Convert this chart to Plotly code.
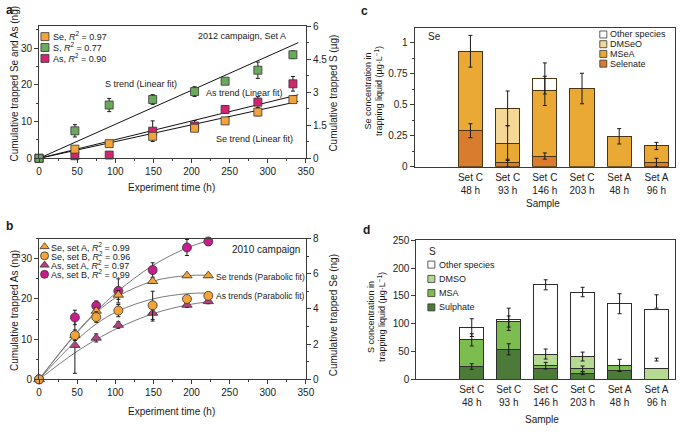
import numpy as np
import plotly.graph_objects as go

W, H = 685, 432
def px(x): return x / W
def py(y): return 1 - y / H

# ---------------- Panel a data (2012 campaign, Set A) ----------------
a_time = [0, 47, 92, 149, 204, 244, 287, 333]
a_se = [0, 2.5, 4.0, 6.0, 8.2, 10.2, 12.6, 16.0]
a_se_err = [0, 0.6, 0.5, 0.8, 0.8, 0.7, 1.0, 0.6]
a_as = [0, 0.7, 0.9, 7.4, 8.8, 13.3, 15.3, 20.3]
a_as_err = [0, 0.5, 0.6, 2.8, 1.5, 1.0, 1.5, 2.0]
a_s = [0, 1.25, 2.42, 2.67, 3.03, 3.5, 4.0, 4.7]          # µg
a_s_err = [0, 0.28, 0.30, 0.22, 0.22, 0.08, 0.37, 0.17]
a_trend_t = [0, 340]
a_se_trend = [0, 15.5]
a_as_trend = [0, 17.3]
a_s_trend = [0, 5.25]
a_legend = ["Se, <i>R</i><sup>2</sup> = 0.97", "S, <i>R</i><sup>2</sup> = 0.77", "As, <i>R</i><sup>2</sup> = 0.90"]

# ---------------- Panel b data (2010 campaign) ----------------
b_time = [0, 47, 75, 104, 149, 194, 222]
b_se_a = [0, 2.51, 3.89, 4.80, 5.58, 5.90, 5.90]
b_se_a_err = [0, 0.0, 0.18, 0.25, 0.12, 0.10, 0.10]
b_se_b = [0, 2.51, 3.54, 3.91, 4.21, 4.57, 4.75]
b_se_b_err = [0, 0.30, 0.30, 0.35, 0.80, 0.15, 0.10]
b_as_a = [0, 8.5, 10.3, 13.5, 16.5, 18.5, 19.4]
b_as_a_err = [0, 7.0, 1.0, 0.8, 2.0, 0.6, 0.6]
b_as_b = [0, 15.4, 18.3, 22.0, 27.2, 32.8, 34.3]
b_as_b_err = [0, 1.8, 1.2, 3.0, 1.8, 2.0, 1.0]
b_fit_t = [0, 47, 75, 104, 149, 194, 222]
b_se_a_fit = [0, 2.51, 3.79, 4.73, 5.58, 5.90, 5.92]
b_se_b_fit = [0, 2.13, 3.15, 3.89, 4.57, 4.87, 4.91]
b_as_a_fit = [0, 6.6, 9.9, 12.8, 16.3, 18.5, 19.3]
b_as_b_fit = [0, 11.2, 16.9, 22.0, 28.3, 32.7, 34.5]
b_legend = ["Se, set A, <i>R</i><sup>2</sup> = 0.99", "Se, set B, <i>R</i><sup>2</sup> = 0.96",
            "As, set A, <i>R</i><sup>2</sup> = 0.97", "As, set B, <i>R</i><sup>2</sup> = 0.99"]

# ---------------- Panels c, d data ----------------
samples = ["Set C<br>48 h", "Set C<br>93 h", "Set C<br>146 h", "Set C<br>203 h", "Set A<br>48 h", "Set A<br>96 h"]
se_species = ["Selenate", "MSeA", "DMSeO", "Other species"]
se_selenate = [0.29, 0.03, 0.086, 0, 0, 0.034]
se_msea = [0.64, 0.16, 0.525, 0.63, 0.245, 0.133]
se_dmseo = [0, 0.28, 0, 0, 0, 0]
se_other = [0, 0, 0.10, 0, 0, 0]
se_selenate_err = [0.056, 0.03, 0.025, None, None, 0.034]
se_msea_err = [0.128, 0.14, 0.118, 0.123, 0.062, 0.029]
se_dmseo_err = [None, 0.14, None, None, None, None]
se_other_err = [None, None, 0.125, None, None, None]

s_species = ["Sulphate", "MSA", "DMSO", "Other species"]
s_sulphate = [23, 54, 19, 11, 16, 0]
s_msa = [48, 50, 5.5, 8, 9, 0]
s_dmso = [0, 0, 21, 22, 0, 19]
s_other = [22, 4, 124.5, 116, 111, 106]
s_sulphate_err = [5, 10, None, 2.5, None, None]
s_msa_err = [11, 10, 6, 5, 11, None]
s_dmso_err = [None, None, 9, 8, None, None]
s_other_err = [16, 20, 9, 8.5, 18, None]
s_extra_err_x = [5, 5]
s_extra_err_y = [140, 35.5]
s_extra_err = [12, 2.5]

# ---------------- styles ----------------
FONT = "Liberation Sans, Arial, sans-serif"
AX = "#3a3a3a"
C_SE = "#F2A43A"
C_S = "#6BAA5C"
C_AS = "#D3256F"
C_ASA = "#B8407F"
C_ASB = "#C91C8C"
SE_COLS = ["#DA7C2D", "#E9A934", "#F6D896", "#FFFFFF"]
S_COLS = ["#4C7A39", "#7DBC4E", "#B6DA92", "#FFFFFF"]
ERR = dict(type="data", color="#1a1a1a", thickness=1, width=2)

fig = go.Figure()

def err(arr):
    return dict(ERR, array=arr)

# ---- Panel a ----
for yv in (a_se_trend, a_as_trend):
    fig.add_trace(go.Scatter(x=a_trend_t, y=yv, mode="lines", line=dict(color="#111", width=1),
                             xaxis="x", yaxis="y", hoverinfo="skip"))
fig.add_trace(go.Scatter(x=a_trend_t, y=a_s_trend, mode="lines", line=dict(color="#111", width=1),
                         xaxis="x", yaxis="y2", hoverinfo="skip"))
fig.add_trace(go.Scatter(x=a_time, y=a_s, mode="markers", error_y=err(a_s_err), xaxis="x", yaxis="y2",
                         marker=dict(symbol="square", size=8, color=C_S, line=dict(color="#333", width=0.8)),
                         cliponaxis=False))
fig.add_trace(go.Scatter(x=a_time, y=a_as, mode="markers", error_y=err(a_as_err), xaxis="x", yaxis="y",
                         marker=dict(symbol="square", size=8, color=C_AS, line=dict(color="#333", width=0.8)),
                         cliponaxis=False))
fig.add_trace(go.Scatter(x=a_time, y=a_se, mode="markers", error_y=err(a_se_err), xaxis="x", yaxis="y",
                         marker=dict(symbol="square", size=8, color=C_SE, line=dict(color="#333", width=0.8)),
                         cliponaxis=False))

# ---- Panel b ----
for yv, ax in [(b_se_a_fit, "y4"), (b_se_b_fit, "y4"), (b_as_a_fit, "y3"), (b_as_b_fit, "y3")]:
    fig.add_trace(go.Scatter(x=b_fit_t, y=yv, mode="lines", line=dict(color="#7a7a7a", width=1, shape="spline"),
                             xaxis="x2", yaxis=ax, hoverinfo="skip"))
fig.add_trace(go.Scatter(x=b_time, y=b_as_a, mode="markers", error_y=err(b_as_a_err), xaxis="x2", yaxis="y3",
                         marker=dict(symbol="triangle-up", size=9, color=C_ASA, line=dict(color="#333", width=0.8)),
                         cliponaxis=False))
fig.add_trace(go.Scatter(x=b_time, y=b_se_a, mode="markers", error_y=err(b_se_a_err), xaxis="x2", yaxis="y4",
                         marker=dict(symbol="triangle-up", size=9, color=C_SE, line=dict(color="#333", width=0.8)),
                         cliponaxis=False))
fig.add_trace(go.Scatter(x=b_time, y=b_se_b, mode="markers", error_y=err(b_se_b_err), xaxis="x2", yaxis="y4",
                         marker=dict(symbol="circle", size=9, color=C_SE, line=dict(color="#333", width=0.8)),
                         cliponaxis=False))
fig.add_trace(go.Scatter(x=b_time, y=b_as_b, mode="markers", error_y=err(b_as_b_err), xaxis="x2", yaxis="y3",
                         marker=dict(symbol="circle", size=9, color=C_ASB, line=dict(color="#333", width=0.8)),
                         cliponaxis=False))

# ---- Panels c, d (stacked bars) ----
xi = list(range(len(samples)))

def add_stack(layers, errs, cols, names, xa, ya, outline):
    for vals, col, nm in zip(layers, cols, names):
        fig.add_trace(go.Bar(x=xi, y=[v if v else None for v in vals], width=0.65, name=nm,
                             marker=dict(color=col, line=dict(color=outline, width=1)),
                             xaxis=xa, yaxis=ya))
    cum = np.cumsum(np.array(layers, dtype=float), axis=0)
    for lvl, e in zip(cum, errs):
        idx = [i for i, v in enumerate(e) if v is not None]
        fig.add_trace(go.Scatter(x=idx, y=[lvl[i] for i in idx], mode="markers",
                                 marker=dict(size=1, color="rgba(0,0,0,0)"),
                                 error_y=err([e[i] for i in idx]), xaxis=xa, yaxis=ya, cliponaxis=False))

add_stack([se_selenate, se_msea, se_dmseo, se_other],
          [se_selenate_err, se_msea_err, se_dmseo_err, se_other_err],
          SE_COLS, se_species, "x3", "y5", "#4a3512")
add_stack([s_sulphate, s_msa, s_dmso, s_other],
          [s_sulphate_err, s_msa_err, s_dmso_err, s_other_err],
          S_COLS, s_species, "x4", "y6", "#2e2e2e")
fig.add_trace(go.Scatter(x=s_extra_err_x, y=s_extra_err_y, mode="markers",
                         marker=dict(size=1, color="rgba(0,0,0,0)"),
                         error_y=err(s_extra_err), xaxis="x4", yaxis="y6"))

# ---- legend swatches on a pixel overlay axis ----
def swatch(xs, ys, symbols, colors, size):
    fig.add_trace(go.Scatter(x=xs, y=ys, mode="markers", xaxis="x5", yaxis="y7", cliponaxis=False,
                             marker=dict(symbol=symbols, size=size, color=colors, line=dict(color="#333", width=0.8)),
                             hoverinfo="skip"))

swatch([42.7] * 3, [31.5, 42.7, 53.9], "square", [C_SE, C_S, C_AS], 8)
swatch([42.3] * 4, [247.5, 257, 266.5, 276], ["triangle-up", "circle", "triangle-up", "circle"],
       [C_SE, C_SE, C_ASA, C_ASB], 8)
swatch([611] * 4, [29.3, 39.3, 49.3, 59.3], "square", SE_COLS[::-1], 7)
swatch([436] * 4, [266, 280.7, 295.3, 310], "square", S_COLS[::-1], 7)

# ---------------- axes ----------------
base = dict(showline=True, linecolor=AX, linewidth=1, ticks="outside", ticklen=4, tickcolor=AX,
            tickfont=dict(size=10, color="#222", family=FONT), showgrid=False, zeroline=False, fixedrange=True)
minor = lambda d: dict(dtick=d, ticklen=2, ticks="outside", tickcolor=AX, showgrid=False)

dom_ab_x = [px(36.7), px(308.3)]
layout_axes = dict(
    xaxis=dict(base, domain=dom_ab_x, range=[0, 350], dtick=50, minor=minor(25), mirror=True, anchor="y"),
    yaxis=dict(base, domain=[py(156.7), py(20.7)], range=[0, 36], tickvals=[0, 10, 20, 30], minor=minor(5), anchor="x"),
    yaxis2=dict(base, overlaying="y", side="right", range=[0, 6], tickvals=[0, 1.5, 3, 4.5, 6],
                ticktext=["0", "1.5", "3", "4.5", "6"], minor=minor(0.75), anchor="x"),
    xaxis2=dict(base, domain=dom_ab_x, range=[0, 350], dtick=50, minor=minor(25), mirror=True, anchor="y3"),
    yaxis3=dict(base, domain=[py(384), py(239.3)], range=[0, 35], tickvals=[0, 10, 20, 30], minor=minor(5), anchor="x2"),
    yaxis4=dict(base, overlaying="y3", side="right", range=[0, 8], dtick=2, minor=minor(1), anchor="x2"),
    xaxis3=dict(base, domain=[px(419), px(684)], range=[-1.5, 5.5], tickvals=xi, ticktext=samples, ticks="",
                ticklabelstandoff=1, mirror=True, anchor="y5"),
    yaxis5=dict(base, domain=[py(165.3), py(22.3)], range=[0, 1.12], tickvals=[0, 0.25, 0.5, 0.75, 1],
                ticktext=["0", "0.25", "0.5", "0.75", "1"], minor=minor(0.125), mirror=True, anchor="x3"),
    xaxis4=dict(base, domain=[px(420.7), px(684)], range=[-1.5, 5.5], tickvals=xi, ticktext=samples, ticks="",
                ticklabelstandoff=1, mirror=True, anchor="y6"),
    yaxis6=dict(base, domain=[py(384), py(241)], range=[0, 250], dtick=50, mirror=True, anchor="x4"),
    xaxis5=dict(domain=[0, 1], range=[0, W], visible=False, fixedrange=True, anchor="y7"),
    yaxis7=dict(domain=[0, 1], range=[H, 0], visible=False, fixedrange=True, anchor="x5"),
)

# ---------------- annotations ----------------
ann = []
def txt(x, y, s, size=9, xa="center", ya="middle", angle=0, bold=False):
    ann.append(dict(x=px(x), y=py(y), xref="paper", yref="paper", text=f"<b>{s}</b>" if bold else s,
                    showarrow=False, xanchor=xa, yanchor=ya, textangle=angle,
                    font=dict(family=FONT, size=size, color="#1a1a1a")))

# panel letters
txt(1, 4, "a", 12, "left", bold=True)
txt(1, 226, "b", 12, "left", bold=True)
txt(362, 5, "c", 12, "left", bold=True)
txt(364, 230, "d", 12, "left", bold=True)

# panel a
txt(12, 80, "Cumulative trapped Se and As (ng)", 10, angle=-90)
txt(336, 90, "Cumulative trapped S (µg)", 10, angle=-90)
txt(172, 187, "Experiment time (h)", 10)
for yy, s in zip([31.0, 42.2, 53.4], a_legend):
    txt(49, yy, s, 9, "left")
txt(290, 30.7, "2012 campaign, Set A", 9, "right")
txt(140, 80, "S trend (Linear fit)", 9)
txt(245.7, 89.3, "As trend (Linear fit)", 9)
txt(256, 136.7, "Se trend (Linear fit)", 9)

# panel b
txt(12, 313, "Cumulative trapped As (ng)", 10, angle=-90)
txt(336, 318, "Cumulative trapped Se (ng)", 10, angle=-90)
txt(172, 417, "Experiment time (h)", 10)
for yy, s in zip([247.5, 257, 266.5, 276], b_legend):
    txt(47, yy, s, 9, "left")
txt(304, 250, "2010 campaign", 10, "right")
txt(215, 279, "Se trends (Parabolic fit)", 8.5, "left")
txt(215, 298.3, "As trends (Parabolic fit)", 8.5, "left")

# panel c
txt(377, 87, "Se concentration in<br>trapping liquid (µg·L<sup>−1</sup>)", 9, angle=-90)
txt(550, 203, "Sample", 10)
txt(431, 31.7, "Se", 10, "left")
for yy, s in zip([29.3, 39.3, 49.3, 59.3], se_species[::-1]):
    txt(616, yy, s, 9, "left")

# panel d
txt(380.5, 320, "S concentration in<br>trapping liquid (µg·L<sup>−1</sup>)", 9, angle=-90)
txt(549, 425, "Sample", 10)
txt(432, 252, "S", 10, "left")
for yy, s in zip([266, 280.7, 295.3, 310], s_species[::-1]):
    txt(441.5, yy, s, 9, "left")

fig.update_layout(width=W, height=H, autosize=False, margin=dict(l=0, r=0, t=0, b=0),
                  paper_bgcolor="white", plot_bgcolor="rgba(0,0,0,0)", showlegend=False,
                  barmode="stack", bargap=0.35, font=dict(family=FONT, size=10, color="#222"),
                  annotations=ann, **layout_axes)

fig.write_html("out.html", config={"displayModeBar": False, "staticPlot": True},
               post_script="document.body.style.margin='0px';")
